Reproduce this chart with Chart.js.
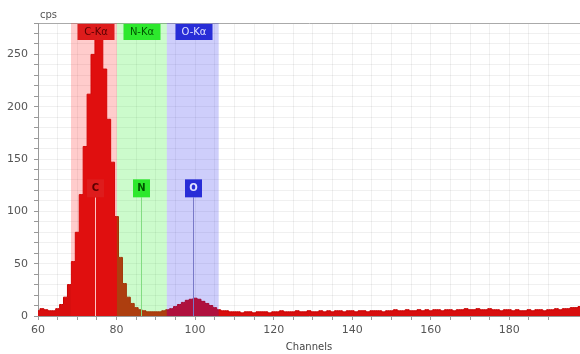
<!DOCTYPE html>
<html><head><meta charset="utf-8">
<script src="https://cdn.jsdelivr.net/npm/chart.js@4.4.1/dist/chart.umd.min.js"></script>
<style>html,body{margin:0;padding:0;background:#fff;}canvas{display:block;}</style>
</head><body>
<canvas id="c" width="580" height="354"></canvas>
<script>
// ---- data ----
const firstChannel = 60;
const counts = [
  5, 7, 6, 5, 5, 7, 11, 18, 30, 52,          // 60-69
  80, 116, 162, 212, 250, 268, 272, 236, 188, 147, // 70-79
  95, 56, 31, 18, 12, 8, 6, 5, 4, 4,         // 80-89
  4, 4, 5, 6, 7, 9, 11, 13, 15, 16,          // 90-99
  17, 16, 14, 12, 10, 8, 6, 5, 5, 4,         // 100-109
  4, 4, 3, 4, 4, 3, 4, 4, 4, 3,              // 110-119
  4, 4, 5, 4, 4, 4, 5, 4, 4, 5,              // 120-129
  4, 4, 5, 4, 5, 4, 5, 5, 4, 5,              // 130-139
  5, 4, 5, 5, 4, 5, 5, 5, 4, 5,              // 140-149
  5, 6, 5, 5, 6, 5, 5, 6, 5, 6,              // 150-159
  5, 6, 6, 5, 6, 6, 5, 6, 6, 7,              // 160-169
  6, 6, 7, 6, 6, 7, 6, 6, 5, 6,              // 170-179
  6, 5, 6, 5, 5, 6, 5, 6, 6, 5,              // 180-189
  6, 6, 7, 6, 7, 7, 8, 8, 9                  // 190-198
];
const channels = counts.map((_, i) => firstChannel + i);
const elementNames = ['C', 'N', 'O'];
const lineNames = ['C-K\u03b1', 'N-K\u03b1', 'O-K\u03b1'];
const lineChannels = [74.6, 86.1, 99.4];
const bandStart = [68.4, 80.1, 92.8];
const bandEnd = [80.1, 92.8, 106.0];
const xTickLabels = [60, 80, 100, 120, 140, 160, 180];
const yTickLabels = [0, 50, 100, 150, 200, 250];

// ---- styles ----
const S = {
  band: ['rgba(255,25,25,0.22)', 'rgba(25,235,25,0.22)', 'rgba(30,30,235,0.22)'],
  line: ['rgba(255,215,215,0.9)', 'rgb(130,220,130)', 'rgb(120,120,200)'],
  boxFill: ['rgb(222,28,28)', 'rgb(45,232,45)', 'rgb(40,45,215)'],
  boxText: ['rgb(90,0,0)', 'rgb(0,85,0)', 'rgb(225,225,255)'],
  markerLevel: 122,
  font: '"DejaVu Sans", sans-serif'
};

const overlay = {
  id: 'overlay',
  afterDatasetsDraw(chart) {
    const {ctx, chartArea: a, scales: {x, y}} = chart;
    ctx.save();
    ctx.beginPath();
    ctx.rect(a.left, a.top, a.right - a.left, a.bottom - a.top);
    ctx.clip();
    elementNames.forEach((el, i) => {
      const x0 = x.getPixelForValue(bandStart[i]);
      const x1 = x.getPixelForValue(bandEnd[i]);
      ctx.fillStyle = S.band[i];
      ctx.fillRect(x0, a.top, x1 - x0, a.bottom - a.top);
    });
    ctx.restore();

    ctx.save();
    ctx.textAlign = 'center';
    ctx.textBaseline = 'middle';
    elementNames.forEach((el, i) => {
      const cx = Math.round(x.getPixelForValue(lineChannels[i])) + 0.5;
      const my = y.getPixelForValue(S.markerLevel);
      ctx.strokeStyle = S.line[i];
      ctx.lineWidth = 1;
      ctx.beginPath();
      ctx.moveTo(cx, my + 9);
      ctx.lineTo(cx, a.bottom);
      ctx.stroke();
      ctx.fillStyle = S.boxFill[i];
      ctx.fillRect(cx - 8.5, my - 9, 17, 18);
      ctx.fillStyle = S.boxText[i];
      ctx.font = 'bold 10px ' + S.font;
      ctx.fillText(el, cx, my + 0.5);
      ctx.fillStyle = S.boxFill[i];
      ctx.fillRect(cx - 18, a.top + 1, 37, 16);
      ctx.fillStyle = S.boxText[i];
      ctx.font = '10px ' + S.font;
      ctx.fillText(lineNames[i], cx + 0.5, a.top + 9.5);
    });
    ctx.textAlign = 'left';
    ctx.fillStyle = '#555';
    ctx.font = '10px ' + S.font;
    ctx.fillText('cps', a.left + 2, a.top - 8);
    ctx.restore();
  }
};

new Chart(document.getElementById('c'), {
  type: 'line',
  data: {
    datasets: [{
      data: channels.map((c, i) => ({x: c, y: counts[i]})),
      stepped: 'middle',
      fill: 'origin',
      backgroundColor: 'rgb(216,14,14)',
      borderColor: 'rgb(200,0,0)',
      borderWidth: 1,
      pointRadius: 0
    }]
  },
  options: {
    responsive: false,
    devicePixelRatio: 1,
    animation: false,
    layout: {padding: {top: 23, right: 0, left: 0, bottom: 0}},
    plugins: {legend: {display: false}, tooltip: {enabled: false}},
    scales: {
      x: {
        type: 'linear', min: 60, max: 198,
        afterFit: s => { s.height = 38; s.paddingLeft = 0; s.paddingRight = 0; },
        border: {color: '#999'},
        grid: {color: 'rgba(0,0,0,0.06)', tickLength: 4, tickColor: '#999'},
        ticks: {
          stepSize: 5, autoSkip: false, maxRotation: 0, padding: 4,
          color: '#555', font: {size: 11, family: S.font},
          callback: v => xTickLabels.includes(v) ? String(v) : ''
        },
        title: {display: true, text: 'Channels', color: '#444', font: {size: 10, family: S.font}, padding: {top: 0, bottom: 1}}
      },
      y: {
        min: 0, max: 280,
        afterFit: s => { s.width = 38; s.paddingTop = 0; s.paddingBottom = 0; },
        border: {color: '#999'},
        grid: {
          color: c => c.tick && c.tick.value === 280 ? '#aaa' : 'rgba(0,0,0,0.06)',
          tickLength: 4, tickColor: '#999'
        },
        ticks: {
          stepSize: 10, autoSkip: false, padding: 6,
          color: '#555', font: {size: 11, family: S.font},
          callback: v => yTickLabels.includes(v) ? String(v) : ''
        }
      }
    }
  },
  plugins: [overlay]
});
</script>
</body></html>
